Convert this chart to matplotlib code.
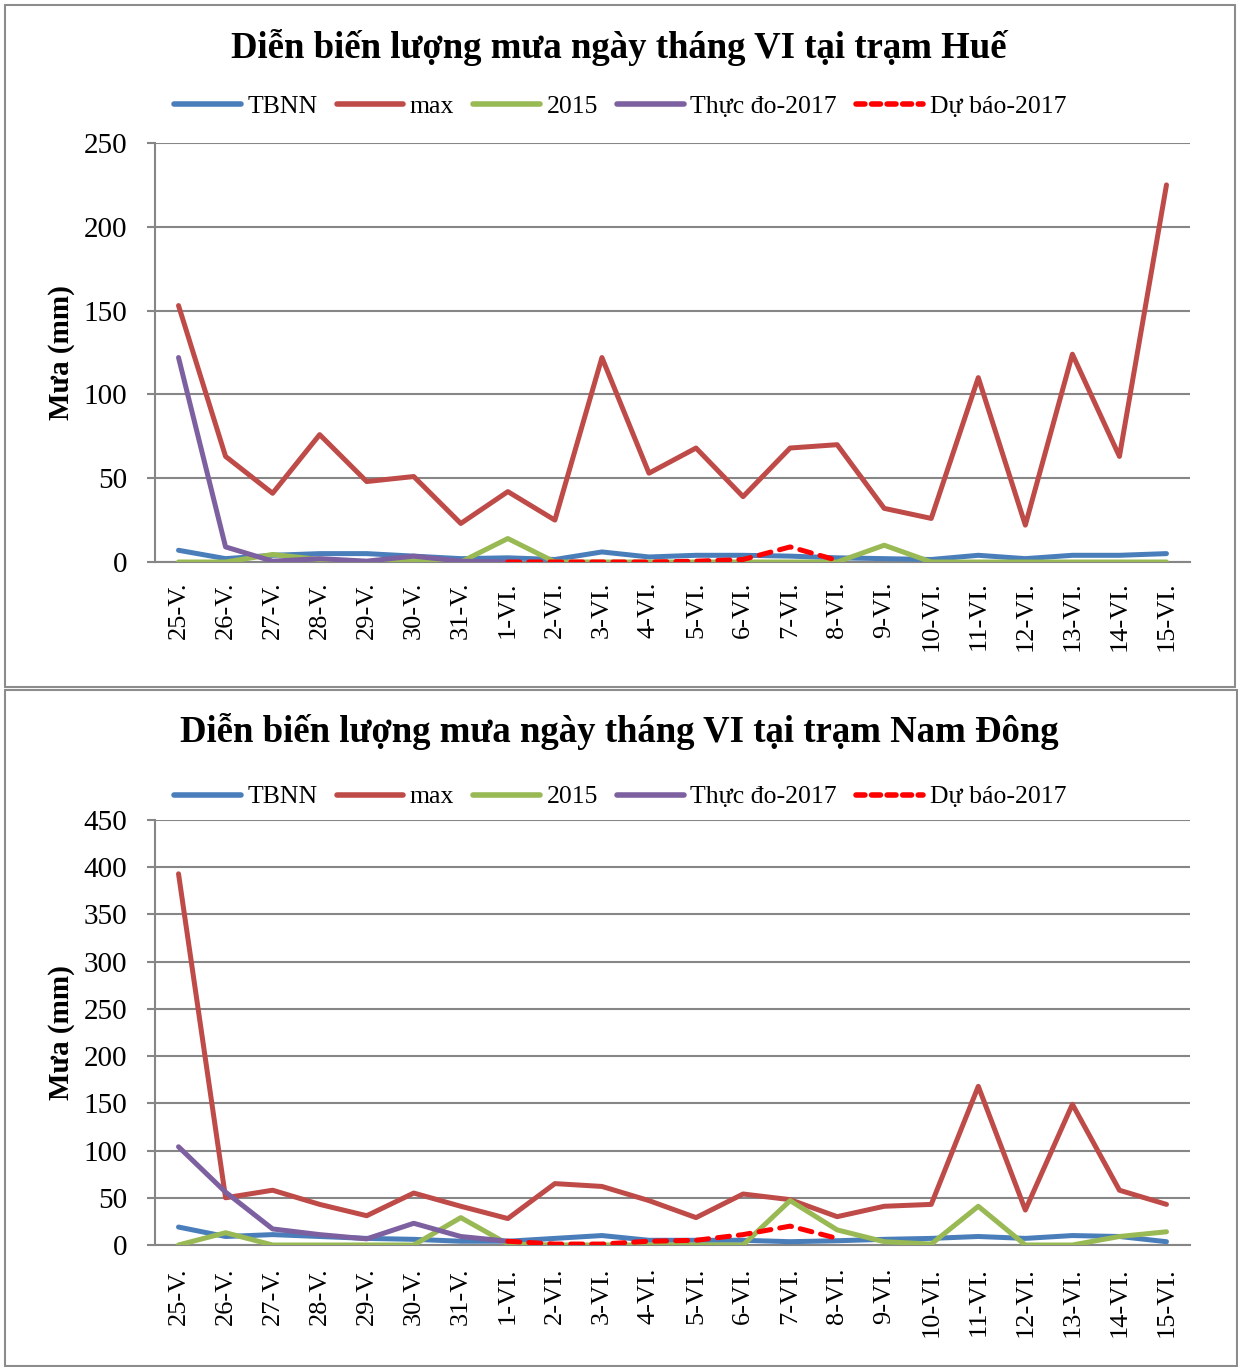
import numpy as np
import matplotlib
matplotlib.use("Agg")
import matplotlib.pyplot as plt
from matplotlib.patches import Rectangle
from matplotlib.lines import Line2D

plt.rcParams['font.family'] = ['Liberation Serif', 'DejaVu Serif']

days = ['25-V.', '26-V.', '27-V.', '28-V.', '29-V.', '30-V.', '31-V.',
        '1-VI.', '2-VI.', '3-VI.', '4-VI.', '5-VI.', '6-VI.', '7-VI.',
        '8-VI.', '9-VI.', '10-VI.', '11-VI.', '12-VI.', '13-VI.', '14-VI.', '15-VI.']

# Hue station
hue_tbnn = [7, 2, 4, 5, 5, 3.5, 2, 2.5, 1.5, 6, 3, 4, 4, 3.5, 2.5, 2, 1.5, 4, 2, 4, 4, 5]
hue_max = [153, 63, 41, 76, 48, 51, 23, 42, 25, 122, 53, 68, 39, 68, 70, 32, 26, 110, 22, 124, 63, 225]
hue_2015 = [0, 0, 4.5, 1.5, 0, 0.5, 0, 14, 0, 0, 0, 0, 0, 0, 0, 10, 0, 0, 0, 0, 0, 0]
hue_obs = [122, 9, 0.5, 2, 0.5, 3.5, 0.5, 0]
hue_fc = [0, 0, 0, 0, 0.5, 1.5, 9, 1]

# Nam Dong station
nd_tbnn = [19, 9, 11, 9, 7, 6, 4, 4, 7, 10, 5, 5, 5, 3.5, 4.5, 6, 7, 9, 7, 10, 9, 3.5]
nd_max = [393, 50, 58, 43, 31, 55, 41, 28, 65, 62, 47, 29, 54, 48, 30, 41, 43, 168, 37, 149, 58, 43]
nd_2015 = [0, 13, 0, 0, 0, 0, 29, 1, 0, 0, 0, 0, 0, 47, 16, 3.5, 1, 41, 0, 0, 9, 14]
nd_obs = [104, 56, 17, 11, 6.5, 23, 9, 4]
nd_fc = [4, 1, 1, 4, 5, 11, 20, 7]

labels = ['TBNN', 'max', '2015', 'Thực đo-2017', 'Dự báo-2017']
colors = ['#4A7EBB', '#BE4B48', '#98B954', '#7D60A0', '#FF0000']

W, H = 1238, 1367
fig = plt.figure(figsize=(W / 100, H / 100), dpi=100)


def px_axes(x0, y0, x1, y1):
    return fig.add_axes([x0 / W, 1 - y1 / H, (x1 - x0) / W, (y1 - y0) / H])


def draw_panel(ax, tbnn, mx, y15, obs, fc, ymax, title, title_y, leg_y, xpad):
    x = np.arange(len(days))
    lw = 3.6
    ax.plot(x, tbnn, color=colors[0], lw=lw, solid_capstyle='round', zorder=3)
    ax.plot(x, mx, color=colors[1], lw=lw, solid_capstyle='round', zorder=3)
    ax.plot(x, y15, color=colors[2], lw=lw, solid_capstyle='round', zorder=3)
    ax.plot(x[:len(obs)], obs, color=colors[3], lw=lw, solid_capstyle='round', zorder=4)
    ax.plot(x[7:7 + len(fc)], fc, color=colors[4], lw=lw, dashes=(2.4, 1.8),
            dash_capstyle='round', zorder=5)
    ax.set_xlim(-0.5, len(days) - 0.5)
    ax.set_ylim(0, ymax)
    ax.set_yticks(np.arange(0, ymax + 1, 50))
    ax.set_xticks(x)
    ax.set_xticklabels(days, rotation=90, fontsize=19)
    ax.tick_params(axis='x', length=0, pad=xpad)
    ax.tick_params(axis='y', labelsize=21, length=6, width=1.5, color='#868686', pad=14)
    ax.grid(axis='y', color='#868686', lw=1.5)
    ax.set_axisbelow(True)
    for s in ['top', 'right']:
        ax.spines[s].set_visible(False)
    for s in ['left', 'bottom']:
        ax.spines[s].set_color('#868686')
        ax.spines[s].set_linewidth(1.5)
    ax.set_ylabel('Mưa (mm)', fontsize=21, fontweight='bold', labelpad=6)
    fig.text(0.5, 1 - title_y / H, title, ha='center', va='center',
             fontsize=26.5, fontweight='bold')
    handles = []
    for i, lab in enumerate(labels):
        if i == 4:
            handles.append(Line2D([], [], color=colors[i], lw=4, dashes=(1.6, 1.2),
                                  dash_capstyle='round'))
        else:
            handles.append(Line2D([], [], color=colors[i], lw=4, solid_capstyle='round'))
    fig.legend(handles, labels, loc='center', bbox_to_anchor=(620 / W, 1 - leg_y / H),
               ncol=5, frameon=False, fontsize=18.5, handlelength=2.6,
               handletextpad=0.25, columnspacing=0.75)


ax1 = px_axes(155, 143, 1190, 562)
draw_panel(ax1, hue_tbnn, hue_max, hue_2015, hue_obs, hue_fc, 250,
           'Diễn biến lượng mưa ngày tháng VI tại trạm Huế', 47, 107, 14)

ax2 = px_axes(155, 820, 1190, 1245)
draw_panel(ax2, nd_tbnn, nd_max, nd_2015, nd_obs, nd_fc, 450,
           'Diễn biến lượng mưa ngày tháng VI tại trạm Nam Đông', 731, 797, 16)

# panel borders
fig.patches.append(Rectangle((5 / W, 1 - 687 / H), 1230 / W, 682 / H,
                             transform=fig.transFigure, fill=False,
                             edgecolor='#8C8C8C', lw=1.5))
fig.patches.append(Rectangle((5 / W, 1 - 1366 / H), 1232 / W, 676 / H,
                             transform=fig.transFigure, fill=False,
                             edgecolor='#8C8C8C', lw=1.5))

fig.savefig('out.png', dpi=100)
